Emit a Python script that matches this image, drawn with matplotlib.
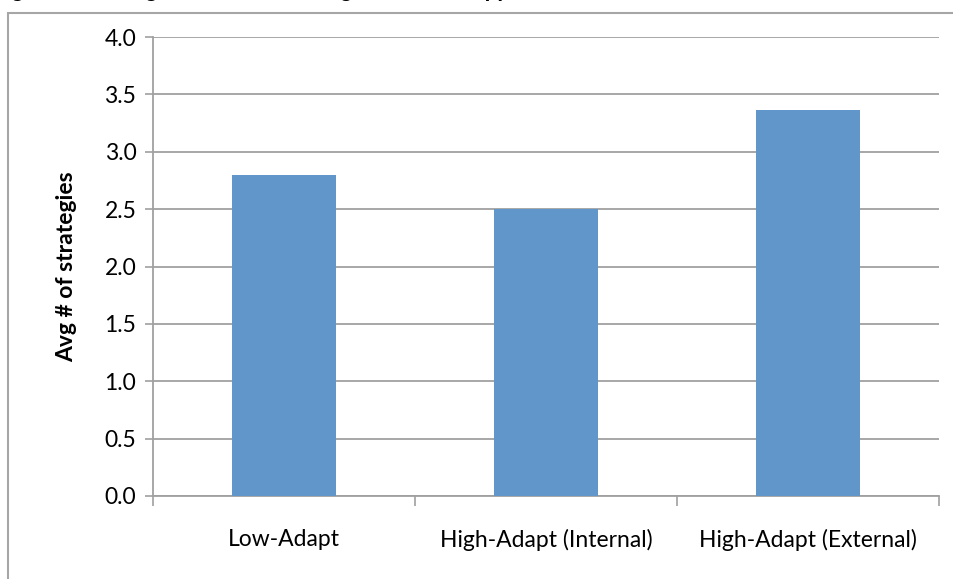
import numpy as np
import matplotlib
matplotlib.use("Agg")
import matplotlib.pyplot as plt
from matplotlib.patches import Rectangle

# data
categories = ["Low-Adapt", "High-Adapt (Internal)", "High-Adapt (External)"]
avg_strategies = [2.80, 2.50, 3.36]
y_ticks = [0.0, 0.5, 1.0, 1.5, 2.0, 2.5, 3.0, 3.5, 4.0]
title_text = "Figure 4: Average number of strategies used to support work"

plt.rcParams['font.family'] = ['Lato', 'DejaVu Sans']

grey = '#A0A0A0'
bar_color = '#6096C9'
fs = 16.5

fig = plt.figure(figsize=(9.54, 5.79), dpi=100)
ax = fig.add_axes([153 / 954, 83 / 579, 786 / 954, 459 / 579])

x = np.arange(len(categories))
ax.bar(x, avg_strategies, width=0.4, color=bar_color, zorder=3)

ax.set_xlim(-0.5, len(categories) - 0.5)
ax.set_ylim(0, 4.0)
ax.set_yticks(y_ticks)
ax.set_yticklabels([f"{v:.1f}" for v in y_ticks], fontsize=fs)

# category labels between boundary ticks
ax.set_xticks(np.arange(len(categories) + 1) - 0.5)
ax.set_xticklabels([])
ax.set_xticks(x, minor=True)
ax.set_xticklabels(categories, minor=True, fontsize=fs)
ax.tick_params(axis='x', which='minor', length=0, pad=24)
ax.tick_params(axis='x', which='major', length=7, color=grey, width=1.2)
ax.tick_params(axis='y', length=6, color=grey, width=1.2, pad=6)

ax.grid(axis='y', color=grey, linewidth=1.3, zorder=0)
for s in ['top', 'right']:
    ax.spines[s].set_visible(False)
for s in ['left', 'bottom']:
    ax.spines[s].set_color(grey)
    ax.spines[s].set_linewidth(1.3)

ax.set_ylabel("Avg # of strategies", fontsize=fs, fontweight='bold', labelpad=20)

# outer chart frame (partly outside the picture)
fig.patches.append(Rectangle((8 / 954, -0.2), 1.2, (579 - 13) / 579 + 0.2,
                             transform=fig.transFigure, fill=False,
                             edgecolor='#A6A6A6', linewidth=1.5))

# title, cut off at the top edge like in the source figure
fig.text(-0.005, 1.006, title_text, fontsize=17, fontweight='bold',
         fontstyle='italic', va='baseline', ha='left')

fig.savefig("out.png", dpi=100)
